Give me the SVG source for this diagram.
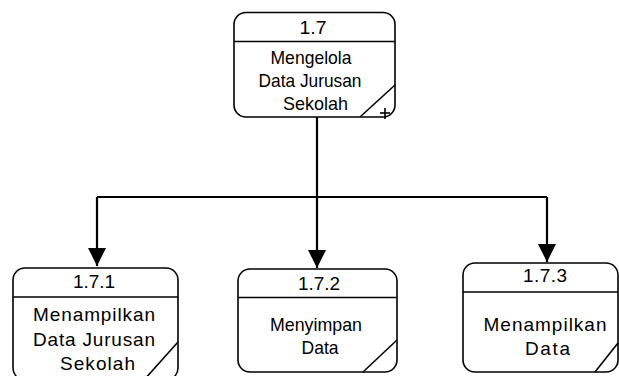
<svg xmlns="http://www.w3.org/2000/svg" width="619" height="376" viewBox="0 0 619 376">
<defs>
<style>
.box{fill:#fff;stroke:#000;stroke-width:1.6}
.ln{fill:none;stroke:#000;stroke-width:1.6}
.con{fill:none;stroke:#000;stroke-width:2.2}
.t{font-family:"Liberation Sans",Arial,sans-serif;font-size:19px;fill:#000;text-anchor:middle}
</style>
<marker id="arr" markerUnits="userSpaceOnUse" markerWidth="20" markerHeight="18" refX="18" refY="9" orient="auto">
<path d="M0,0 L18,9 L0,18 Z" fill="#000"/>
</marker>
</defs>
<rect width="619" height="376" fill="#fff"/>
<g id="connectors">
<path class="con" d="M317,117 V197"/>
<path class="con" d="M97,197 H547"/>
<path class="con" d="M97,197 V266" marker-end="url(#arr)"/>
<path class="con" d="M317,197 V268" marker-end="url(#arr)"/>
<path class="con" d="M547,197 V262" marker-end="url(#arr)"/>
</g>
<g id="node-1.7">
<rect class="box" x="234" y="12.5" width="161" height="104.5" rx="12"/>
<line class="ln" x1="234" y1="41.5" x2="395" y2="41.5"/>
<line class="ln" x1="360" y1="117" x2="395" y2="85"/>
<line class="ln" x1="380" y1="113" x2="390" y2="113"/>
<line class="ln" x1="385" y1="108" x2="385" y2="119"/>
<text class="t" x="313" y="34" textLength="27" lengthAdjust="spacingAndGlyphs">1.7</text>
<text class="t" x="311" y="63.5" textLength="81" lengthAdjust="spacingAndGlyphs">Mengelola</text>
<text class="t" x="310" y="86.5" textLength="103" lengthAdjust="spacingAndGlyphs">Data Jurusan</text>
<text class="t" x="315.5" y="110" textLength="65" lengthAdjust="spacingAndGlyphs">Sekolah</text>
</g>
<g id="node-1.7.1">
<rect class="box" x="13" y="268" width="165" height="112" rx="12"/>
<line class="ln" x1="13" y1="297" x2="178" y2="297"/>
<line class="ln" x1="144" y1="380" x2="178" y2="342"/>
<text class="t" x="94" y="288" textLength="42">1.7.1</text>
<text class="t" x="94" y="321" textLength="122">Menampilkan</text>
<text class="t" x="94" y="346" textLength="122">Data Jurusan</text>
<text class="t" x="97.5" y="370" textLength="75">Sekolah</text>
</g>
<g id="node-1.7.2">
<rect class="box" x="238" y="269" width="159" height="103" rx="12"/>
<line class="ln" x1="238" y1="297.5" x2="397" y2="297.5"/>
<line class="ln" x1="363" y1="372" x2="397" y2="340"/>
<text class="t" x="319" y="290" textLength="42">1.7.2</text>
<text class="t" x="316" y="331" textLength="92" lengthAdjust="spacingAndGlyphs">Menyimpan</text>
<text class="t" x="320" y="354" textLength="37" lengthAdjust="spacingAndGlyphs">Data</text>
</g>
<g id="node-1.7.3">
<rect class="box" x="463" y="263" width="155" height="109" rx="12"/>
<line class="ln" x1="463" y1="292" x2="618" y2="292"/>
<line class="ln" x1="595" y1="372" x2="618" y2="343"/>
<text class="t" x="545" y="282" textLength="44">1.7.3</text>
<text class="t" x="545" y="331" textLength="123">Menampilkan</text>
<text class="t" x="547.5" y="355" textLength="45">Data</text>
</g>
</svg>
